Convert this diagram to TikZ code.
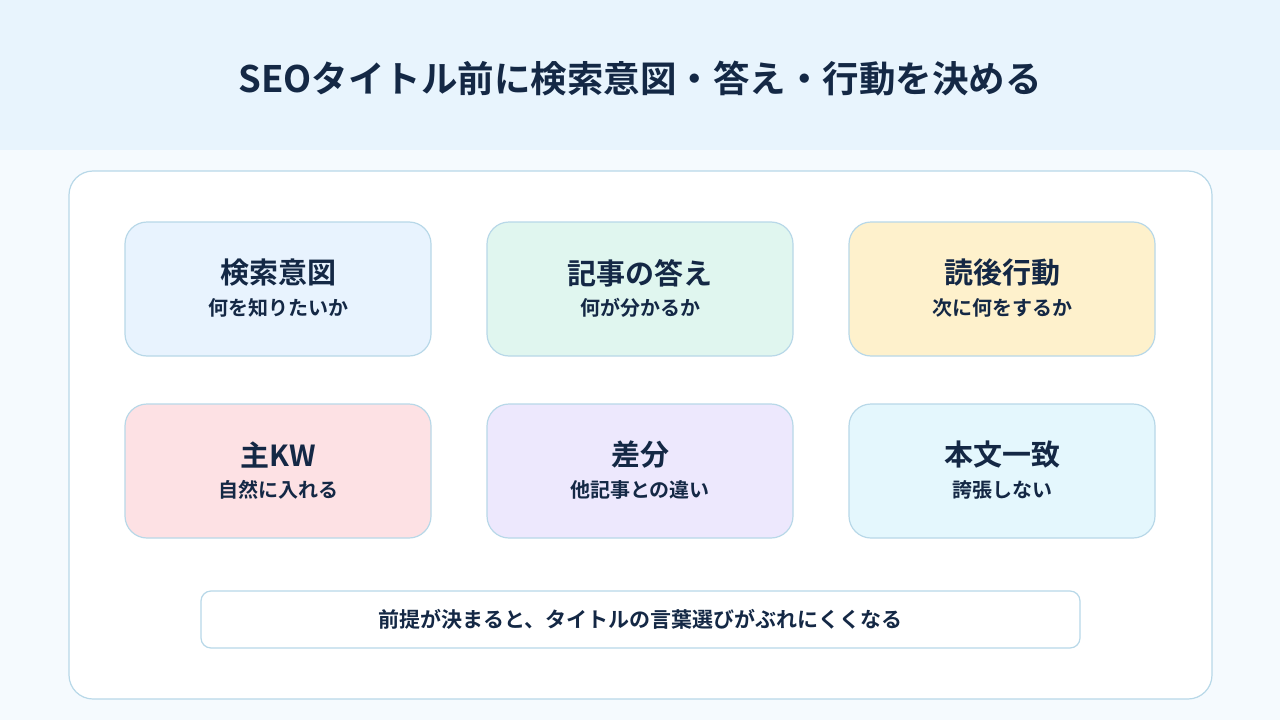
\documentclass[tikz,border=0pt]{standalone}
\usepackage{fontspec}
\setmainfont{Noto Sans CJK JP}[BoldFont={* Bold}]
\definecolor{ink}{HTML}{142845}
\definecolor{hdr}{HTML}{E8F4FD}
\definecolor{bg}{HTML}{F5FAFE}
\definecolor{bd}{HTML}{B8D8E8}
\definecolor{cA}{HTML}{E8F3FE}
\definecolor{cB}{HTML}{E0F6EF}
\definecolor{cC}{HTML}{FEF1CC}
\definecolor{cD}{HTML}{FDE1E4}
\definecolor{cE}{HTML}{EDE8FD}
\definecolor{cF}{HTML}{E4F7FD}
\begin{document}
\begin{tikzpicture}[x=1pt,y=-1pt,
  card/.style={draw=bd,line width=1.2pt,rounded corners=22pt,minimum width=306pt,minimum height=134pt},
  ttl/.style={text=ink,font=\bfseries\fontsize{29}{32}\selectfont},
  sub/.style={text=ink,font=\bfseries\fontsize{20}{23}\selectfont}]
\useasboundingbox (0,0) rectangle (1280,720);
\fill[bg] (0,0) rectangle (1280,720);
\fill[hdr] (0,0) rectangle (1280,150);
\node[text=ink,font=\bfseries\fontsize{36.5}{40}\selectfont] (title) at (640,79) {SEOタイトル前に検索意図・答え・行動を決める};
\draw[bd,fill=white,line width=1.2pt,rounded corners=24pt] (69,171) rectangle (1212,699);
\foreach \n/\x/\y/\c/\t/\s in {a/278/289/cA/検索意図/何を知りたいか, b/640/289/cB/記事の答え/何が分かるか, c/1002/289/cC/読後行動/次に何をするか, d/278/471/cD/主KW/自然に入れる, e/640/471/cE/差分/他記事との違い, f/1002/471/cF/本文一致/誇張しない}{
  \node[card,fill=\c] (\n) at (\x,\y) {};
  \node[ttl] (\n t) at (\x,\y-16) {\t};
  \node[sub] (\n s) at (\x,\y+19) {\s};
}
\node[draw=bd,fill=white,line width=1.2pt,rounded corners=10pt,minimum width=879pt,minimum height=57pt,text=ink,font=\bfseries\fontsize{21}{24}\selectfont] (note) at (640.5,619.5) {前提が決まると、タイトルの言葉選びがぶれにくくなる};
\end{tikzpicture}
\end{document}
